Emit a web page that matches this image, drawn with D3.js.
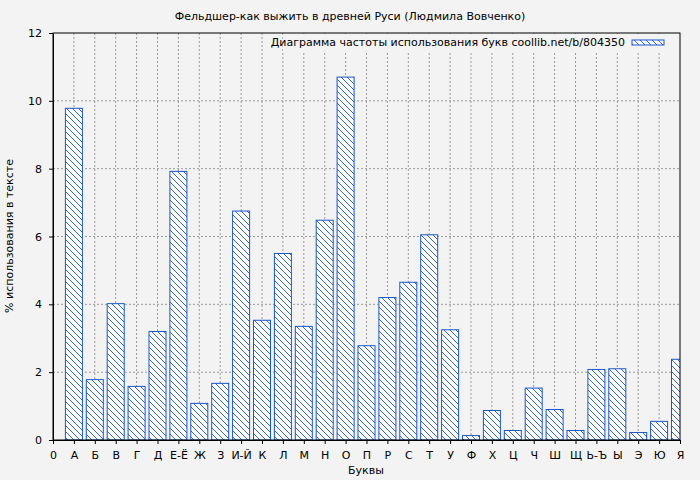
<!DOCTYPE html>
<html><head><meta charset="utf-8">
<script src="https://cdn.jsdelivr.net/npm/d3@7"></script>
<style>body{margin:0;background:#f3f3f3}text{font-family:"DejaVu Sans",sans-serif;font-size:11px;fill:#000}</style>
</head><body>
<svg id="c" width="700" height="480"></svg>
<script>
const letters = ["0","А","Б","В","Г","Д","Е-Ё","Ж","З","И-Й","К","Л","М","Н","О","П","Р","С","Т","У","Ф","Х","Ц","Ч","Ш","Щ","Ь-Ъ","Ы","Э","Ю","Я"]
const values = [null,9.78,1.78,4.02,1.58,3.2,7.92,1.08,1.67,6.75,3.53,5.5,3.35,6.48,10.7,2.78,4.2,4.65,6.05,3.25,0.13,0.87,0.28,1.53,0.9,0.28,2.08,2.1,0.22,0.55,2.38]
const yTicks = [0,2,4,6,8,10,12]

const svg = d3.select('#c')
const L = 53, R = 680, T = 33, B = 440
const x = d3.scaleLinear().domain([0, letters.length-1]).range([L, R])
const y = d3.scaleLinear().domain([0, 12]).range([B, T])

const defs = svg.append('defs')
const pat = defs.append('pattern').attr('id','hatch').attr('patternUnits','userSpaceOnUse')
  .attr('width',6).attr('height',6)
pat.append('rect').attr('width',6).attr('height',6).attr('fill','#fff')
pat.append('path').attr('d','M0,0L6,6M-3,3L3,9M3,-3L9,3').attr('stroke','#1a56c8').attr('stroke-width',0.9)
defs.append('clipPath').attr('id','clip').append('rect').attr('x',L).attr('y',T).attr('width',R-L).attr('height',B-T)

// grid
svg.append('g').selectAll('line').data(letters.slice(1,-1)).join('line')
  .attr('x1',(d,i)=>x(i+1)).attr('x2',(d,i)=>x(i+1)).attr('y1',T).attr('y2',B)
  .attr('stroke','#999').attr('stroke-dasharray','2,2')
svg.append('g').selectAll('line').data(yTicks.slice(1,-1)).join('line')
  .attr('x1',L).attr('x2',R).attr('y1',d=>y(d)).attr('y2',d=>y(d))
  .attr('stroke','#999').attr('stroke-dasharray','2,2')

const bw = 17
svg.append('g').attr('clip-path','url(#clip)').selectAll('rect')
  .data(values.map((v,i)=>({v,i})).filter(d=>d.v!=null)).join('rect')
  .attr('x',d=>x(d.i)-bw/2).attr('width',bw)
  .attr('y',d=>y(d.v)).attr('height',d=>B-y(d.v))
  .attr('fill','url(#hatch)').attr('stroke','#1a56c8').attr('stroke-width',1)

svg.append('rect').attr('x',L).attr('y',T).attr('width',R-L).attr('height',B-T)
  .attr('fill','none').attr('stroke','#000')

const xa = svg.append('g').attr('transform',`translate(0,${B})`)
  .call(d3.axisBottom(x).tickValues(d3.range(letters.length)).tickFormat(i=>letters[i]).tickSizeOuter(0).tickSizeInner(4))
const ya = svg.append('g').attr('transform',`translate(${L},0)`)
  .call(d3.axisLeft(y).tickValues(yTicks).tickSizeOuter(0).tickSizeInner(4))
xa.selectAll('text').attr('dy','1.1em')
ya.selectAll('text').attr('dx','-4')
svg.selectAll('.domain').attr('stroke','#000')
svg.selectAll('.tick text').style('font-family','"DejaVu Sans",sans-serif').style('font-size','11px')

svg.append('text').attr('x',350).attr('y',20).attr('text-anchor','middle')
  .text('Фельдшер-как выжить в древней Руси (Людмила Вовченко)')
svg.append('text').attr('x',366).attr('y',474).attr('text-anchor','middle').text('Буквы')
svg.append('text').attr('transform','translate(13,236) rotate(-90)').attr('text-anchor','middle')
  .text('% использования в тексте')

const lg = svg.append('g')
lg.append('rect').attr('x',283).attr('y',34).attr('width',395).attr('height',17).attr('fill','#f3f3f3')
lg.append('text').attr('x',625).attr('y',46).attr('text-anchor','end')
  .text('Диаграмма частоты использования букв coollib.net/b/804350')
lg.append('rect').attr('x',632).attr('y',40).attr('width',32).attr('height',5)
  .attr('fill','url(#hatch)').attr('stroke','#1a56c8')
</script>
</body></html>
